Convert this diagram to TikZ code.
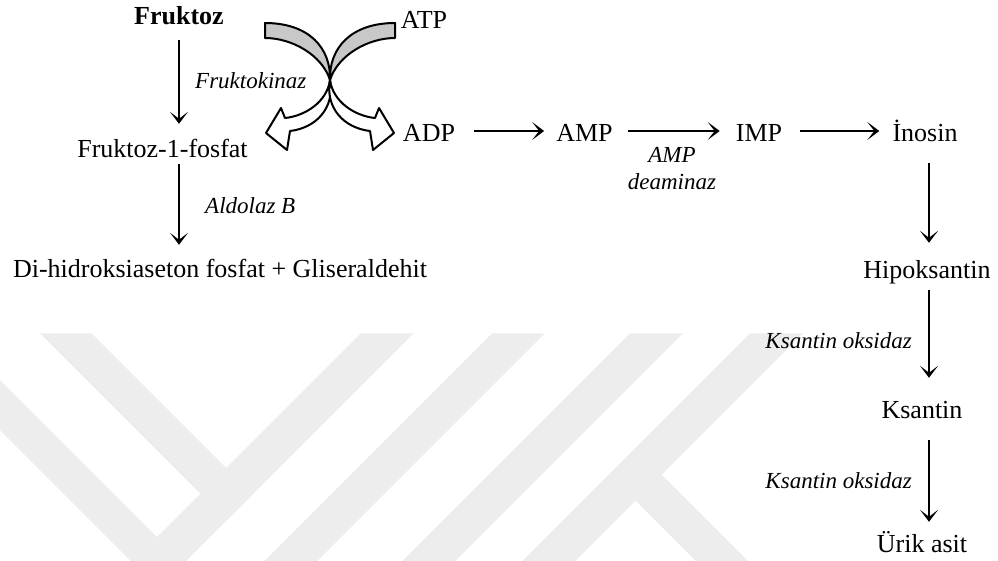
\documentclass[tikz,border=0pt]{standalone}
\usepackage{fontspec}
\setmainfont{Liberation Serif}
\usetikzlibrary{arrows.meta}

\definecolor{wmgray}{RGB}{237,237,237}
\definecolor{tailgray}{RGB}{200,200,200}

\tikzset{
	met/.style={anchor=base, inner sep=0pt, text height=19pt, text depth=6pt, font=\fontsize{26}{30}\selectfont},
	enz/.style={anchor=base, inner sep=0pt, font=\fontsize{23}{27}\selectfont\itshape},
	arr/.style={line width=2.9pt, -{Stealth[length=12pt,width=18pt,inset=7pt]}, shorten <=14pt, shorten >=13pt},
	curvearrow/.style={draw=black, line width=2pt, line join=round},
	wmband/.style={fill=wmgray, draw=none}
}

\begin{document}
\begin{tikzpicture}[x=1pt, y=-1pt]
		\useasboundingbox (0,0) rectangle (998,560);

		% Watermark in the background
		\begin{scope}
			\clip (0,0) rectangle (998,560);
			\fill[wmband] (40,333.3) -- (91.6,333.3) -- (252.7,494.4) -- (226.8,520.2) -- cycle;
			\fill[wmband] (-10,370) -- (157,537) -- (360.7,333.3) -- (413.7,333.3) -- (158.5,588.5) -- (-10,420) -- cycle;
			\fill[wmband] (492,333.3) -- (545,333.3) -- (298.3,580) -- (245.3,580) -- cycle;
			\fill[wmband] (630,333.3) -- (683,333.3) -- (436.3,580) -- (383.3,580) -- cycle;
			\fill[wmband] (750,333.3) -- (803,333.3) -- (556.3,580) -- (503.3,580) -- cycle;
			\fill[wmband] (617.5,482.5) -- (643.5,456.5) -- (767,580) -- (715,580) -- cycle;
		\end{scope}

		% Define nodes
		\node[met, font=\fontsize{26}{30}\selectfont\bfseries] (fru) at (179,24) {Fruktoz};
		\node[met] (f1p) at (162.5,157) {Fruktoz-1-fosfat};
		\node[met] (dhap) at (220,277) {Di-hidroksiaseton fosfat + Gliseraldehit};
		\node[met] (atp) at (424,28) {ATP};
		\node[met] (adp) at (429,141) {ADP};
		\node[met] (amp) at (584.5,141) {AMP};
		\node[met] (imp) at (759,141) {IMP};
		\node[met] (ino) at (925,141) {İnosin};
		\node[met] (hipo) at (927,278) {Hipoksantin};
		\node[met] (ksa) at (922,418) {Ksantin};
		\node[met] (urik) at (922,552) {Ürik asit};

		\node[enz, anchor=base west] (fk) at (195,88) {Fruktokinaz};
		\node[enz, anchor=base west] (ald) at (205,213) {Aldolaz B};
		\node[enz] (ampd1) at (672,162) {AMP};
		\node[enz] (ampd2) at (672,189) {deaminaz};
		\node[enz, anchor=base east] (xo1) at (912,348) {Ksantin oksidaz};
		\node[enz, anchor=base east] (xo2) at (912,488) {Ksantin oksidaz};

		\coordinate (rx) at (929,0);
		\coordinate (ry) at (0,131);

		% Crossing arrows, ATP -> ADP
		\foreach \sx/\dx in {1/0,-1/660}{
			\begin{scope}[xshift=\dx, xscale=\sx]
				\filldraw[curvearrow, fill=tailgray] (265,23) -- (265,38) .. controls (292,38) and (322,55) .. (330,80)
					.. controls (331,48) and (309,23) .. (265,23) -- cycle;
				\filldraw[curvearrow, fill=white] (330,80) .. controls (327,102) and (305,116) .. (285,118) -- (281,108)
					-- (266,133) -- (287,150) -- (290,131) .. controls (316,128) and (335,108) .. (330,80) -- cycle;
			\end{scope}
		}

		% Connect the nodes
		\draw[arr, shorten <=10pt, shorten >=14pt] (fru.south) -- (fru.south |- f1p.north);
		\draw[arr, shorten <=1pt, shorten >=13pt] (f1p.south -| fru.south) -- (dhap.north -| fru.south);
		\draw[arr, shorten <=19pt, shorten >=12pt] (adp.east |- ry) -- (amp.west |- ry);
		\draw[arr, shorten <=15pt, shorten >=16pt] (amp.east |- ry) -- (imp.west |- ry);
		\draw[arr, shorten <=18pt, shorten >=13pt] (imp.east |- ry) -- (ino.west |- ry);
		\draw[arr, shorten <=16pt, shorten >=16pt] (ino.south -| rx) -- (hipo.north -| rx);
		\draw[arr, shorten <=6pt, shorten >=21pt] (hipo.south -| rx) -- (ksa.north -| rx);
		\draw[arr, shorten <=16pt, shorten >=11pt] (ksa.south -| rx) -- (urik.north -| rx);
	\end{tikzpicture}
\end{document}
